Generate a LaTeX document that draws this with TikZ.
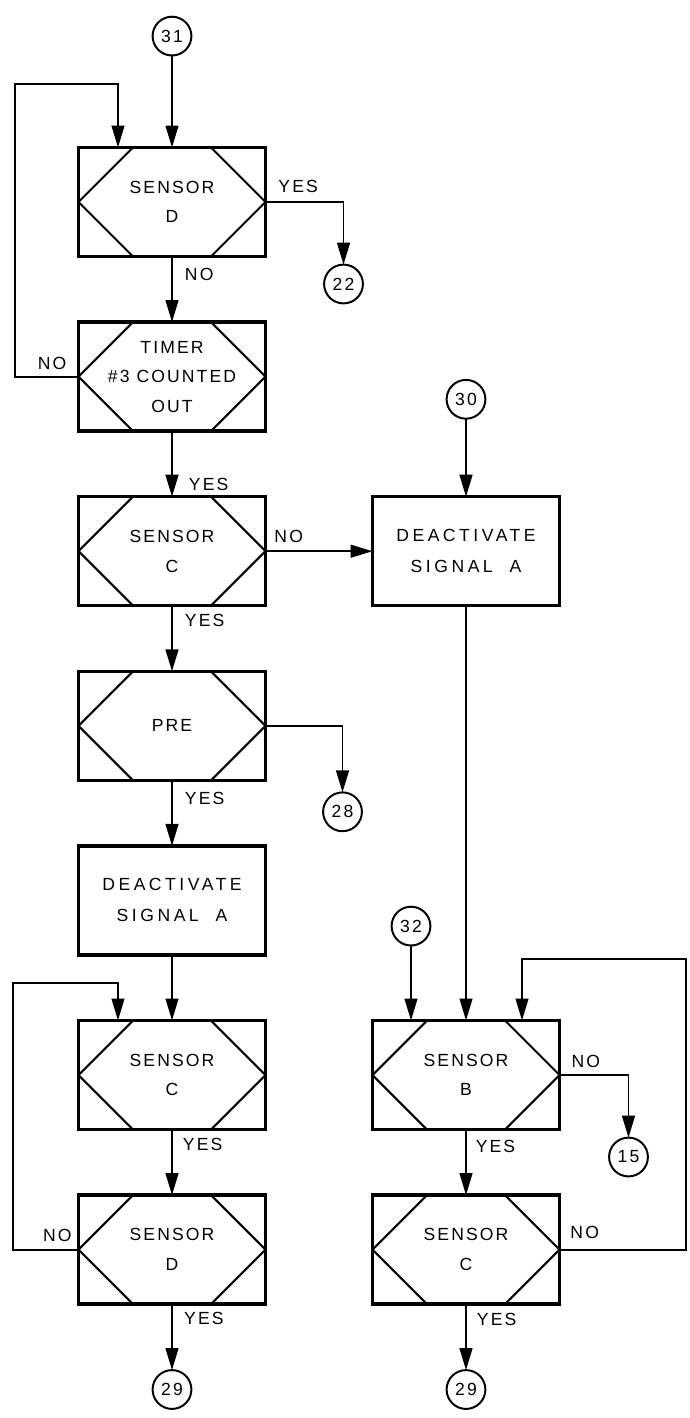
\documentclass[tikz,border=0pt]{standalone}
\usepackage{fontspec}
\setmainfont{Liberation Sans}
\newfontfamily\lettering[LetterSpace=12]{Liberation Sans}
\newfontfamily\letteringwide[LetterSpace=20]{Liberation Sans}
\usetikzlibrary{
  arrows.meta,
  calc,
  positioning,
}
\tikzset{
  % Text in boxes and on lines
  lettered/.style={font=\lettering\fontsize{12.5}{21}\selectfont},
  % Decision box: frame with hexagon inside
  decision/.style={
    rectangle, draw, line width=2.4pt, outer sep=0pt,
    minimum width=4.675cm, minimum height=2.725cm,
    lettered, align=center,
    path picture={
      \draw[line width=1.5pt]
        (path picture bounding box.west)
        -- ([xshift=1.3625cm]path picture bounding box.north west)
        -- ([xshift=-1.3625cm]path picture bounding box.north east)
        -- (path picture bounding box.east)
        -- ([xshift=-1.3625cm]path picture bounding box.south east)
        -- ([xshift=1.3625cm]path picture bounding box.south west)
        -- cycle;
    },
  },
  % Process box
  process/.style={
    rectangle, draw, line width=2.4pt, outer sep=0pt,
    minimum width=4.675cm, minimum height=2.725cm,
    font=\letteringwide\fontsize{12.5}{22}\selectfont, align=center,
  },
  % Off-page connector
  conn/.style={
    circle, draw, line width=1.4pt, outer sep=0pt,
    minimum size=0.97cm, inner sep=0pt, lettered,
  },
  % Arrow
  arr/.style={-{Triangle[length=0.55cm, width=0.32cm]}, line width=1.4pt},
  % YES / NO labels
  lab/.style={lettered, inner sep=0pt},
}

\begin{document}
\begin{tikzpicture}[
  node distance=1.64cm and 2.675cm,
]
\useasboundingbox (0,0) rectangle (17.225,-35.45);

% ── Left column ───────────────────────────────────────────────────────────────
\node[decision] (sensD1) at (4.3,-5.05) {SENSOR\\D};
\node[decision, below=of sensD1] (timer) {TIMER\\\#3 COUNTED\\OUT};
\node[decision, below=of timer] (sensC1) {SENSOR\\C};
\node[decision, below=of sensC1] (pre) {PRE};
\node[process, below=of pre] (deact1) {DEACTIVATE\\SIGNAL\ \ A};
\node[decision, below=of deact1] (sensC2) {SENSOR\\C};
\node[decision, below=of sensC2] (sensD2) {SENSOR\\D};

% ── Right column ──────────────────────────────────────────────────────────────
\node[process, right=of sensC1] (deact2) {DEACTIVATE\\SIGNAL\ \ A};
\node[decision, right=of sensC2] (sensB) {SENSOR\\B};
\node[decision, right=of sensD2] (sensC3) {SENSOR\\C};

% ── Connectors ────────────────────────────────────────────────────────────────
\node[conn, above=2.3cm of sensD1] (c31) {31};
\node[conn] (c22) at ($(sensD1.east)+(1.95,-2.05)$) {22};
\node[conn, above=1.95cm of deact2] (c30) {30};
\node[conn] (c28) at ($(pre.east)+(1.925,-2.15)$) {28};
\node[conn, above=1.875cm of sensB, xshift=-1.375cm] (c32) {32};
\node[conn] (c15) at ($(sensB.east)+(1.725,-2.05)$) {15};
\node[conn, below=1.65cm of sensD2] (c29a) {29};
\node[conn, below=1.65cm of sensC3] (c29b) {29};

% loop corners
\coordinate (tloop) at (0.375,-2.1);
\coordinate (dloop) at (0.325,-24.575);
\coordinate (cloop) at (17.15,-23.975);

% ── Flow, left column ─────────────────────────────────────────────────────────
\draw[arr] (c31) -- (c31 |- sensD1.north);
\draw[arr] (sensD1.east)
  node[lab, anchor=south west, xshift=0.3cm, yshift=0.22cm]{YES} -| (c22);
\draw[arr] (sensD1) --
  node[lab, pos=0, anchor=north west, xshift=0.3cm, yshift=-0.28cm]{NO} (timer);
\draw[arr] (timer.west)
  node[lab, anchor=south east, xshift=-0.28cm, yshift=0.15cm]{NO}
  -| (tloop) -| ([xshift=-1.35cm]sensD1.north);
\draw[arr] (timer) --
  node[lab, pos=1, anchor=south west, xshift=0.4cm, yshift=0.12cm]{YES} (sensC1);
\draw[arr] (sensC1) --
  node[lab, pos=0, anchor=south west, xshift=0.2cm, yshift=0.2cm]{NO} (deact2);
\draw[arr] (sensC1) --
  node[lab, pos=0, anchor=north west, xshift=0.3cm, yshift=-0.2cm]{YES} (pre);
\draw[arr] (pre.east) -| (c28);
\draw[arr] (pre) --
  node[lab, pos=0, anchor=north west, xshift=0.3cm, yshift=-0.27cm]{YES} (deact1);
\draw[arr] (deact1) -- (sensC2);
\draw[arr] (sensC2) --
  node[lab, pos=0, anchor=north west, xshift=0.25cm, yshift=-0.2cm]{YES} (sensD2);
\draw[arr] (sensD2.west)
  node[lab, anchor=south east, xshift=-0.15cm, yshift=0.18cm]{NO}
  -| (dloop) -| ([xshift=-1.35cm]sensC2.north);
\draw[arr] (sensD2) --
  node[lab, pos=0, anchor=north west, xshift=0.28cm, yshift=-0.18cm]{YES} (c29a);

% ── Flow, right column ────────────────────────────────────────────────────────
\draw[arr] (c30) -- (deact2);
\draw[arr] (deact2) -- (sensB);
\draw[arr] (c32) -- (c32 |- sensB.north);
\draw[arr] (sensB.east)
  node[lab, anchor=south west, xshift=0.28cm, yshift=0.15cm]{NO} -| (c15);
\draw[arr] (sensB) --
  node[lab, pos=0, anchor=north west, xshift=0.22cm, yshift=-0.25cm]{YES} (sensC3);
\draw[arr] (sensC3.east)
  node[lab, anchor=south west, xshift=0.25cm, yshift=0.25cm]{NO}
  -| (cloop) -| ([xshift=1.4cm]sensB.north);
\draw[arr] (sensC3) --
  node[lab, pos=0, anchor=north west, xshift=0.25cm, yshift=-0.2cm]{YES} (c29b);

\end{tikzpicture}
\end{document}
